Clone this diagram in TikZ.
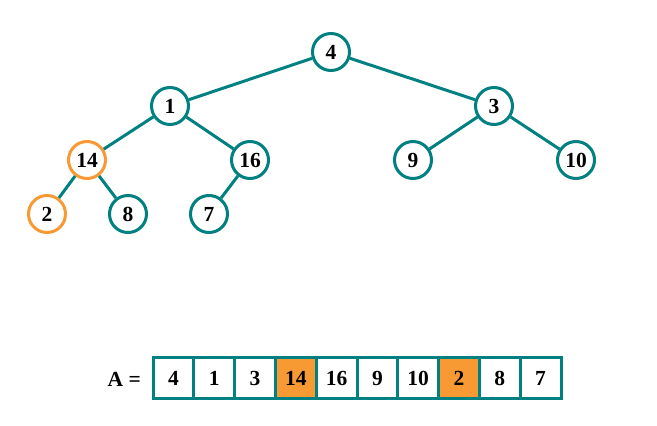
\documentclass[tikz,border=0pt]{standalone}
\usepackage{fontspec}
\setmainfont{Liberation Serif}
\usetikzlibrary{positioning}
\definecolor{hTeal}{HTML}{008080}
\definecolor{hHot}{HTML}{F89A34}
\tikzset{
  key/.style={circle, draw=hTeal, line width=3pt, fill=white, minimum size=37pt,
              inner sep=0pt, font=\fontsize{21.5}{21.5}\selectfont\bfseries},
  hot/.style={key, draw=hHot},
  link/.style={draw=hTeal, line width=3pt},
  cell/.style={rectangle, draw=hTeal, line width=3pt, fill=white, outer sep=0pt,
               minimum width=40.8pt, minimum height=41pt, inner sep=0pt,
               font=\fontsize{21.5}{21.5}\selectfont\bfseries},
  hotcell/.style={cell, fill=hHot},
}

\begin{document}
\begin{tikzpicture}[x=1pt, y=1pt]
\useasboundingbox (0,0) rectangle (657,426);

%% ── the heap as a tree ──────────────────────────────────────────────────
\node[key] (n1) at (331,374) {4};
\node[key] (n2) at (170,320) {1};
\node[key] (n3) at (494,320) {3};
\node[hot] (n4) at (87,266)  {14};
\node[key] (n5) at (250,266) {16};
\node[key] (n6) at (413,266) {9};
\node[key] (n7) at (576,266) {10};
\node[hot] (n8) at (47,212)  {2};
\node[key] (n9) at (128,212) {8};
\node[key] (n10) at (209,212) {7};

\foreach \p/\c in {n1/n2, n1/n3, n2/n4, n2/n5, n3/n6, n3/n7, n4/n8, n4/n9, n5/n10}
  \draw[link] (\p) -- (\c);

%% ── the same heap as an array ───────────────────────────────────────────
\node[cell] (a1) at (173.4,48) {4};
\foreach \v [count=\i from 2, evaluate=\i as \j using int(\i-1)] in {1,3,14,16,9,10,2,8,7}
  \node[cell, right=0pt of a\j] (a\i) {\v};
\node[hotcell] at (a4) {14};
\node[hotcell] at (a8) {2};

\node[font=\fontsize{21.5}{21.5}\selectfont\bfseries, anchor=east, inner sep=0pt]
  (lblA) at (141,47) {A =};

\end{tikzpicture}
\end{document}
